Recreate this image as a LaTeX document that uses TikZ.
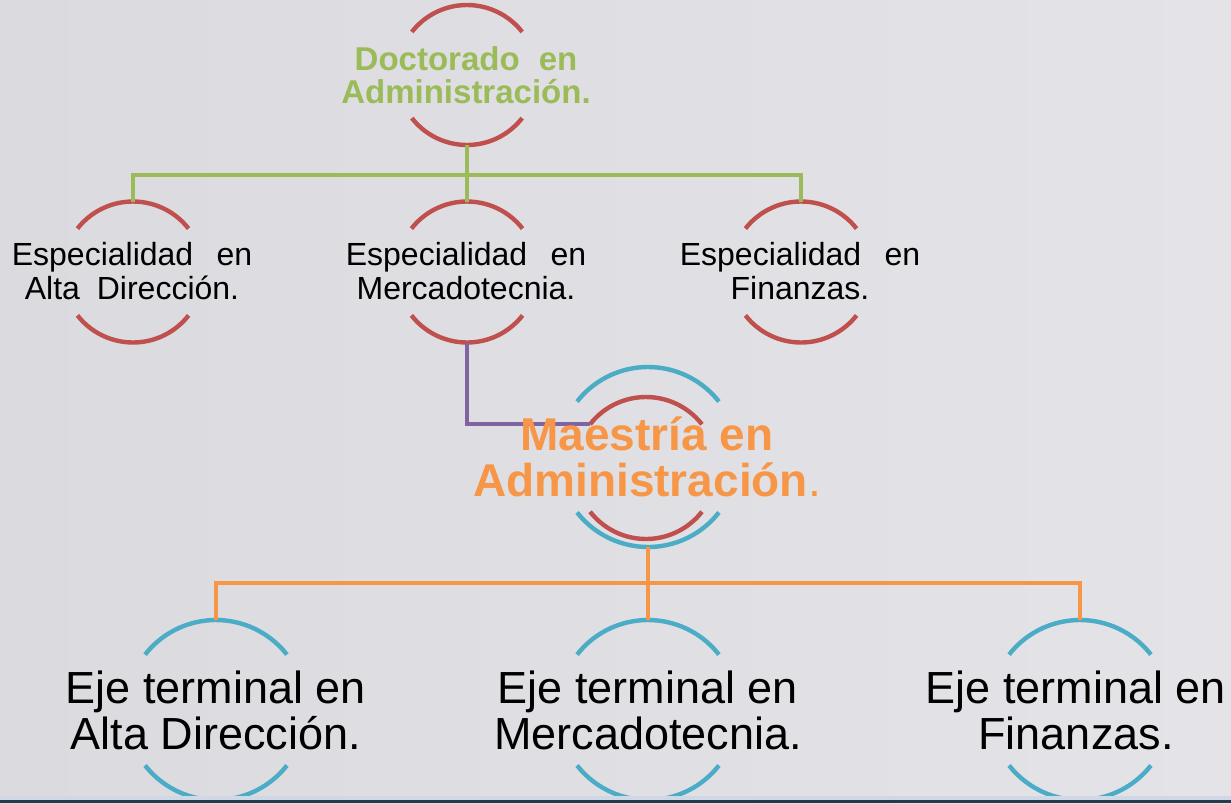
\documentclass[tikz,border=0pt]{standalone}
\usepackage{fontspec}
\setmainfont{Liberation Sans}
\definecolor{ringred}{HTML}{C0504D}
\definecolor{ringblue}{HTML}{4BACC6}
\definecolor{linegreen}{HTML}{9BBB59}
\definecolor{lineorange}{HTML}{F79646}
\definecolor{linepurple}{HTML}{8064A2}
\definecolor{bgleft}{HTML}{DADADF}
\definecolor{bgright}{HTML}{E4E4E8}
\definecolor{striplight}{HTML}{D0D8E6}
\definecolor{stripdark}{HTML}{28394A}
\tikzset{
  ring/.style={circle,minimum size=#1,inner sep=0pt,outer sep=0pt},
  arcline/.style={line width=4.4pt,draw=#1},
  link/.style={line width=4.2pt,draw=#1},
  doctext/.style={font=\bfseries\fontsize{33}{33}\selectfont,text=linegreen,align=center},
  esptext/.style={font=\fontsize{32}{34}\selectfont,align=center},
  maetext/.style={font=\bfseries\fontsize{46}{46}\selectfont,text=lineorange,align=center},
  ejetext/.style={font=\fontsize{45}{46}\selectfont,align=center},
}
% two arcs, top and bottom, of a ring node
\newcommand{\ringarcs}[3]{%
  \draw[arcline=#3] (#1.38) arc[start angle=38,end angle=142,radius=#2];
  \draw[arcline=#3] (#1.218) arc[start angle=218,end angle=322,radius=#2];}
\begin{document}
\begin{tikzpicture}[x=1pt,y=1pt]
    \shade[left color=bgleft,right color=bgright] (0,0) rectangle (1231,-803);
    \useasboundingbox (0,0) rectangle (1231,-803);
    %% Doctorado
    \node[ring=140] (doc) at (467,-75) {};
    \ringarcs{doc}{70}{ringred}
    \node[doctext] (docT) at (466,-75) {Doctorado\hspace{0.3em} en\\Administración.};
    %% Especialidades
    \node[ring=141] (espA) at (133,-272) {};
    \node[ring=141] (espM) at (467,-272) {};
    \node[ring=141] (espF) at (801,-272) {};
    \foreach \n in {espA,espM,espF} {\ringarcs{\n}{70.5}{ringred}}
    \node[esptext] (espAT) at (132,-271) {Especialidad\hspace{0.45em} en\\Alta\hspace{0.25em} Dirección.};
    \node[esptext] (espMT) at (466,-271) {Especialidad\hspace{0.45em} en\\Mercadotecnia.};
    \node[esptext] (espFT) at (800,-271) {Especialidad\hspace{0.45em} en\\Finanzas.};
        \coordinate (gbar) at (467,-175);
        \draw[link=linegreen] (doc.south) -- (gbar);
        \draw[link=linegreen] (espA.north) |- (gbar) -| (espF.north);
        \draw[link=linegreen] (gbar) -- (espM.north);
    %% Maestria
    \node[ring=180] (mae) at (648,-457) {};
    \node[ring=142] (maein) at (646,-468) {};
    \ringarcs{mae}{90}{ringblue}
    \ringarcs{maein}{71}{ringred}
        \draw[link=linepurple] (espM.south) |- (maein.142);
    \node[maetext] (maeT) at (647,-457) {Maestría en\\Administración{\mdseries.}};
    %% Ejes terminales
    \node[ring=180] (ejeA) at (216,-710) {};
    \node[ring=180] (ejeM) at (648,-710) {};
    \node[ring=180] (ejeF) at (1080,-710) {};
    \foreach \n in {ejeA,ejeM,ejeF} {\ringarcs{\n}{90}{ringblue}}
    \node[ejetext] (ejeAT) at (216,-710) {Eje terminal en\\Alta Dirección.};
    \node[ejetext] (ejeMT) at (648,-710) {Eje terminal en\\Mercadotecnia.};
    \node[ejetext] (ejeFT) at (1076,-710) {Eje terminal en\\Finanzas.};
        \coordinate (obar) at (648,-583);
        \draw[link=lineorange] (mae.south) -- (obar);
        \draw[link=lineorange] (ejeA.north) |- (obar) -| (ejeF.north);
        \draw[link=lineorange] (obar) -- (ejeM.north);
    %% bottom strip
    \fill[striplight] (0,-796) rectangle (1231,-799.5);
    \fill[stripdark] (0,-799.5) rectangle (1231,-803);
\end{tikzpicture}
\end{document}
